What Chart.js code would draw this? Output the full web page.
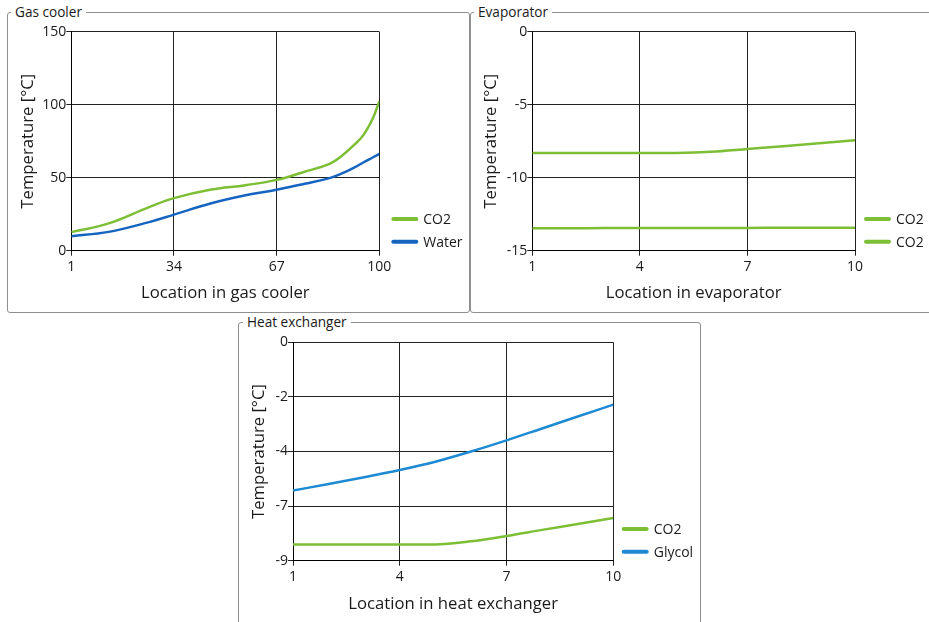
<!DOCTYPE html>
<html>
<head>
<meta charset="utf-8">
<script src="https://cdn.jsdelivr.net/npm/chart.js@4.4.1/dist/chart.umd.min.js"></script>
<style>
  body { margin: 0; background: #fff; width: 929px; height: 622px; overflow: hidden; position: relative; font-family: "Open Sans", "Noto Sans", sans-serif; }
  .box { position: absolute; border: 1px solid #8f8f8f; border-radius: 3px; box-sizing: border-box; }
  .box .cap { position: absolute; top: -10px; background: #fff; padding: 0 4px; font-size: 13.6px; line-height: 18px; color: #1a1a1a; }
  .cv { position: absolute; }
</style>
</head>
<body>
<div class="box" style="left:7px; top:12px; width:463px; height:301px;"><span class="cap" style="left:3px;">Gas cooler</span></div>
<div class="box" style="left:470px; top:12px; width:470px; height:301px;"><span class="cap" style="left:3px;">Evaporator</span></div>
<div class="box" style="left:238px; top:322px; width:463px; height:320px;"><span class="cap" style="left:4px;">Heat exchanger</span></div>

<div class="cv" style="left:8px; top:20px; width:460px; height:290px;"><canvas id="gasCooler"></canvas></div>
<div class="cv" style="left:471px; top:20px; width:458px; height:290px;"><canvas id="evaporator"></canvas></div>
<div class="cv" style="left:239px; top:330px; width:460px; height:290px;"><canvas id="heatEx"></canvas></div>

<script>
// ---- gas cooler
const gcX = [1, 13, 26, 34, 46, 57, 67, 76, 84, 88, 92, 95, 98, 100];
const gcCO2 = [12.7, 18.7, 29.9, 36.0, 41.9, 44.9, 48.5, 54.1, 59.5, 65.1, 72.6, 79.5, 91.0, 102.3];
const gcWater = [9.9, 12.9, 19.6, 24.7, 32.5, 38.0, 41.8, 45.8, 49.7, 52.9, 57.0, 60.6, 64.0, 66.3];
const gcXTicks = [1, 34, 67, 100];
const gcYTicks = [0, 50, 100, 150];

// ---- evaporator
const evX = [1, 2, 3, 4, 5, 6, 7, 8, 9, 10];
const evCO2Out = [-8.31, -8.31, -8.31, -8.31, -8.30, -8.22, -8.03, -7.84, -7.64, -7.44];
const evCO2In = [-13.46, -13.46, -13.45, -13.45, -13.45, -13.44, -13.44, -13.43, -13.43, -13.42];
const evXTicks = [1, 4, 7, 10];
const evYTicks = [-15, -10, -5, 0];

// ---- heat exchanger
const hxX = [1, 2, 3, 4, 5, 6, 7, 8, 9, 10];
const hxCO2 = [-8.33, -8.33, -8.33, -8.33, -8.33, -8.20, -7.98, -7.73, -7.49, -7.24];
const hxGlycol = [-6.11, -5.84, -5.56, -5.26, -4.92, -4.50, -4.04, -3.55, -3.06, -2.57];
const hxXTicks = [1, 4, 7, 10];
const hxYTicks = [-9, -6.75, -4.5, -2.25, 0];

const GREEN = '#7cbf35';
const BLUE = '#1565c0';
const GLYCOL = '#1f8ad4';
const FONT = '"Open Sans", "Noto Sans", sans-serif';
const TXT = '#1a1a1a';

// legend drawn next to the plot, bottom aligned
const sideLegend = {
  id: 'sideLegend',
  afterDraw(chart, args, opts) {
    const {ctx, chartArea} = chart;
    ctx.save();
    chart.data.datasets.forEach((ds, i) => {
      const y = chartArea.bottom - opts.rows[i];
      const x0 = chartArea.right + opts.dx;
      ctx.strokeStyle = ds.borderColor;
      ctx.lineWidth = 4;
      ctx.lineCap = 'round';
      ctx.beginPath();
      ctx.moveTo(x0 + 2, y);
      ctx.lineTo(x0 + 25, y);
      ctx.stroke();
      ctx.fillStyle = TXT;
      ctx.font = '14px ' + FONT;
      ctx.textBaseline = 'middle';
      ctx.fillText(ds.label, x0 + 32, y + 1);
    });
    ctx.restore();
  }
};

function makeChart(id, cfg) {
  const series = cfg.series.map(s => ({
    label: s.label,
    data: cfg.x.map((x, i) => ({x: x, y: s.values[i]})),
    borderColor: s.color,
    borderWidth: 2.5,
    pointRadius: 0,
    fill: false,
    tension: 0.4,
    cubicInterpolationMode: cfg.mode
  }));
  return new Chart(document.getElementById(id), {
    type: 'line',
    data: {datasets: series},
    options: {
      responsive: true,
      maintainAspectRatio: false,
      animation: false,
      events: [],
      layout: {padding: {top: cfg.padTop, right: cfg.padRight, left: 0, bottom: 0}},
      plugins: {
        legend: {display: false},
        tooltip: {enabled: false},
        sideLegend: {dx: cfg.legendDx, rows: [31.7, 9]}
      },
      scales: {
        x: {
          type: 'linear',
          min: cfg.xTicks[0],
          max: cfg.xTicks[cfg.xTicks.length - 1],
          afterBuildTicks: s => { s.ticks = cfg.xTicks.map(v => ({value: v})); },
          afterFit: s => { s.height = cfg.xHeight; },
          grid: {color: '#222', lineWidth: 1, tickLength: 5},
          border: {color: '#000', width: 1},
          ticks: {padding: 3, color: TXT, font: {family: FONT, size: 14}, maxRotation: 0},
          title: {display: true, text: cfg.xTitle, color: TXT, font: {family: FONT, size: 16.7}, padding: {top: 0, bottom: cfg.xTitlePad}}
        },
        y: {
          min: cfg.yTicks[0],
          max: cfg.yTicks[cfg.yTicks.length - 1],
          afterBuildTicks: s => { s.ticks = cfg.yTicks.map(v => ({value: v})); },
          afterFit: s => { s.width = cfg.yWidth; },
          grid: {color: '#222', lineWidth: 1, tickLength: 5},
          border: {color: '#000', width: 1},
          ticks: {padding: 0, color: TXT, font: {family: FONT, size: 14}, callback: v => String(Math.round(v))},
          title: {display: true, text: 'Temperature [°C]', color: TXT, font: {family: FONT, size: 16.7}, padding: {top: 10, bottom: 0}}
        }
      }
    },
    plugins: [sideLegend]
  });
}

makeChart('gasCooler', {
  x: gcX, xTicks: gcXTicks, yTicks: gcYTicks, mode: 'default',
  series: [{label: 'CO2', values: gcCO2, color: GREEN}, {label: 'Water', values: gcWater, color: BLUE}],
  xTitle: 'Location in gas cooler',
  padTop: 11.7, padRight: 88.7, yWidth: 63.3, xHeight: 59.3, xTitlePad: 6.5, legendDx: 12
});

makeChart('evaporator', {
  x: evX, xTicks: evXTicks, yTicks: evYTicks, mode: 'monotone',
  series: [{label: 'CO2', values: evCO2Out, color: GREEN}, {label: 'CO2', values: evCO2In, color: GREEN}],
  xTitle: 'Location in evaporator',
  padTop: 11.7, padRight: 74, yWidth: 61.3, xHeight: 59.3, xTitlePad: 6.5, legendDx: 9
});

makeChart('heatEx', {
  x: hxX, xTicks: hxXTicks, yTicks: hxYTicks, mode: 'monotone',
  series: [{label: 'CO2', values: hxCO2, color: GREEN}, {label: 'Glycol', values: hxGlycol, color: GLYCOL}],
  xTitle: 'Location in heat exchanger',
  padTop: 12.3, padRight: 85.7, yWidth: 54, xHeight: 59.3, xTitlePad: 6, legendDx: 8.4
});
</script>
</body>
</html>
